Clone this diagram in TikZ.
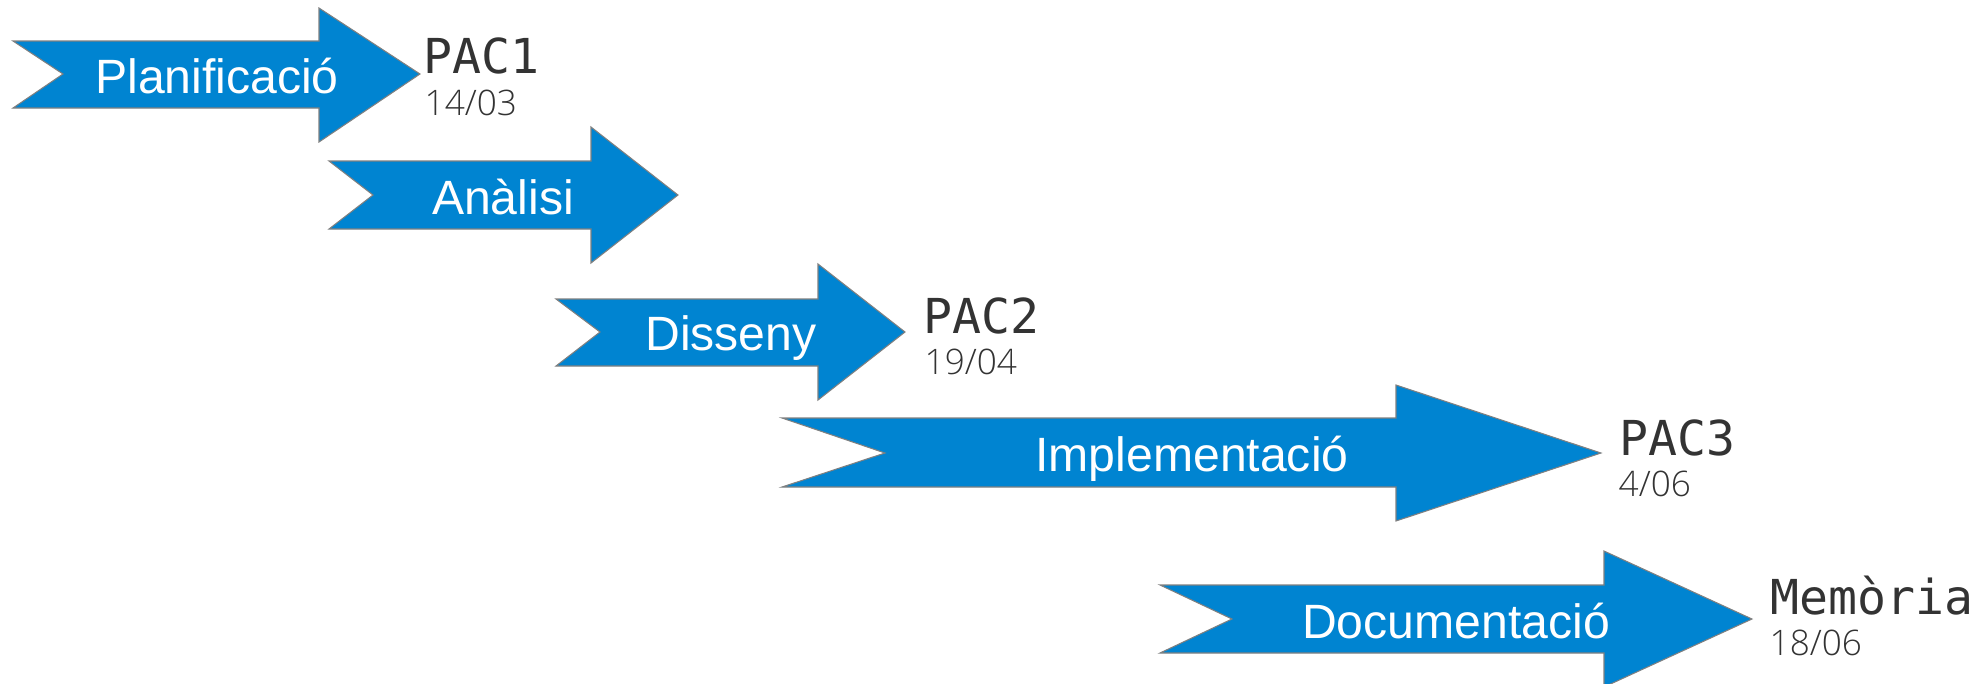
\documentclass[tikz,border=0pt]{standalone}
\usepackage{fontspec}
\setmainfont{Liberation Sans}
\newfontfamily\pacfont{DejaVu Sans Mono}
\newfontfamily\datafont{Open Sans Light}
\definecolor{fasecolor}{HTML}{0084D1}
\definecolor{fitacolor}{HTML}{333333}

\begin{document}
\begin{tikzpicture}[x=0.1mm, y=-0.1mm,
    fase/.style={fill=fasecolor, draw=gray, line width=0.3pt},
    nomfase/.style={anchor=base, inner sep=0pt, text=white, font=\fontsize{13.7}{16}\selectfont},
    fita/.style={anchor=base west, inner sep=0pt, text=fitacolor, font=\pacfont\fontsize{13.7}{16}\selectfont},
    data/.style={anchor=base west, inner sep=0pt, text=fitacolor, font=\datafont\fontsize{10}{12}\selectfont}
]
    \clip (0,0) rectangle (1977,683);

    % fases
    \draw[fase] (13,41) -- (319,41) -- (319,8) -- (420,74) -- (319,142) -- (319,108) -- (13,108) -- (63,74) -- cycle;
    \node[nomfase] (planificacio) at (217,93) {Planificació};

    \draw[fase] (329,161) -- (591,161) -- (591,127) -- (678,195) -- (591,263) -- (591,229) -- (329,229) -- (373,195) -- cycle;
    \node[nomfase] (analisi) at (503,214) {Anàlisi};

    \draw[fase] (556,299) -- (818,299) -- (818,264) -- (905,332) -- (818,400) -- (818,366) -- (556,366) -- (600,332) -- cycle;
    \node[nomfase] (disseny) at (731,350) {Disseny};

    \draw[fase] (782,418) -- (1396,418) -- (1396,385) -- (1601,453) -- (1396,521) -- (1396,487) -- (782,487) -- (885,453) -- cycle;
    \node[nomfase] (implementacio) at (1192,471) {Implementació};

    \draw[fase] (1160,585) -- (1604,585) -- (1604,551) -- (1752,619) -- (1604,687) -- (1604,653) -- (1160,653) -- (1232,619) -- cycle;
    \node[nomfase] (documentacio) at (1456,638) {Documentació};

    % fites
    \node[fita] (pac1) at (423,73) {PAC1};
    \node[data] (data1) at (424,115) {14/03};

    \node[fita] (pac2) at (923,333) {PAC2};
    \node[data] (data2) at (924,374) {19/04};

    \node[fita] (pac3) at (1619,455) {PAC3};
    \node[data] (data3) at (1618,496) {4/06};

    \node[fita] (memoria) at (1770,614) {Memòria};
    \node[data] (data4) at (1769,655) {18/06};
\end{tikzpicture}
\end{document}
